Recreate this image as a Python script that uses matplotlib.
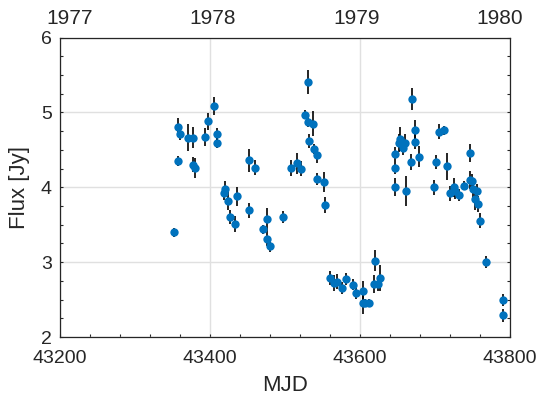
import numpy as np
import matplotlib
matplotlib.use("Agg")
from matplotlib import pyplot as plt
from matplotlib.ticker import MultipleLocator

# light curve
mjd = np.array([
    43351.4, 43357.5, 43359.8, 43357.5, 43370.5, 43376.7, 43377.5, 43380.2,
    43393.1, 43397.5, 43405.5, 43409.5, 43409.5, 43420.2, 43418.1, 43424.2,
    43426.5, 43432.7, 43436.2, 43451.4, 43459.8, 43451.4, 43470.1, 43476.2,
    43476.2, 43480.2, 43497.6, 43507.4, 43516.2, 43521.2, 43530.9, 43525.9,
    43530.1, 43536.8, 43532.2, 43538.9, 43542.9, 43542.9, 43551.2, 43553.2,
    43559.5, 43565.6, 43569.6, 43575.9, 43580.8, 43590.1, 43594.9, 43603.9,
    43603.5, 43606.9, 43611.9, 43619.9, 43618.1, 43623.5, 43626.1, 43669.9,
    43646.6, 43647.0, 43646.6, 43651.5, 43653.6, 43656.8, 43659.9, 43661.2,
    43667.6, 43673.6, 43673.6, 43678.6, 43699.0, 43701.2, 43704.8, 43711.5,
    43715.9, 43719.6, 43725.6, 43727.0, 43732.2, 43738.6, 43746.6, 43746.6,
    43748.9, 43750.2, 43753.3, 43755.5, 43756.9, 43759.5, 43767.9, 43791.0,
    43791.0])
flux = np.array([
    3.40, 4.80, 4.71, 4.35, 4.66, 4.66, 4.30, 4.26,
    4.67, 4.88, 5.09, 4.71, 4.59, 3.98, 3.92, 3.82,
    3.60, 3.51, 3.88, 4.36, 4.26, 3.69, 3.44, 3.57,
    3.31, 3.21, 3.60, 4.26, 4.32, 4.25, 5.40, 4.97,
    4.87, 4.85, 4.62, 4.51, 4.43, 4.11, 4.07, 3.76,
    2.79, 2.72, 2.74, 2.65, 2.77, 2.70, 2.59, 2.62,
    2.46, 2.46, 2.46, 3.02, 2.71, 2.71, 2.79, 5.18,
    4.44, 4.26, 4.00, 4.59, 4.64, 4.53, 4.59, 3.95,
    4.34, 4.76, 4.61, 4.41, 4.00, 4.34, 4.74, 4.76,
    4.28, 3.92, 4.00, 3.95, 3.90, 4.02, 4.46, 4.10,
    4.08, 3.98, 3.84, 3.95, 3.78, 3.55, 3.00, 2.50,
    2.29])
err = np.array([
    0.06, 0.13, 0.08, 0.07, 0.18, 0.14, 0.10, 0.13,
    0.12, 0.11, 0.12, 0.08, 0.07, 0.10, 0.09, 0.12,
    0.09, 0.11, 0.13, 0.15, 0.10, 0.10, 0.06, 0.15,
    0.10, 0.08, 0.08, 0.11, 0.14, 0.10, 0.16, 0.06,
    0.07, 0.17, 0.09, 0.07, 0.11, 0.08, 0.13, 0.11,
    0.09, 0.11, 0.10, 0.08, 0.08, 0.07, 0.08, 0.13,
    0.15, 0.05, 0.05, 0.14, 0.12, 0.10, 0.17, 0.15,
    0.10, 0.08, 0.12, 0.12, 0.16, 0.10, 0.12, 0.20,
    0.11, 0.14, 0.10, 0.14, 0.10, 0.09, 0.10, 0.06,
    0.18, 0.10, 0.13, 0.10, 0.08, 0.06, 0.12, 0.12,
    0.10, 0.12, 0.15, 0.10, 0.11, 0.10, 0.08, 0.08,
    0.09])

year_pos = [43213, 43403, 43595, 43786]
year_labels = ["1977", "1978", "1979", "1980"]

plt.rcParams["font.family"] = ["Liberation Sans", "DejaVu Sans"]
txt = "#262626"

fig = plt.figure(figsize=(5.4, 4.08), dpi=100)
ax = fig.add_axes([0.1115, 0.174, 0.833, 0.734])

ax.errorbar(mjd, flux, yerr=err, fmt="none", ecolor="black", elinewidth=1.2,
            capsize=0, zorder=2)
ax.plot(mjd, flux, "o", color="#0072BD", markersize=6, markeredgewidth=0,
        zorder=3)

ax.set_xlim(43200, 43800)
ax.set_ylim(2, 6)
ax.xaxis.set_major_locator(MultipleLocator(200))
ax.xaxis.set_minor_locator(MultipleLocator(40))
ax.yaxis.set_major_locator(MultipleLocator(1))
ax.yaxis.set_minor_locator(MultipleLocator(0.25))
ax.grid(True, which="major", color="#e0e0e0", linewidth=1.0)
ax.set_axisbelow(True)
ax.tick_params(which="both", direction="in", top=True, right=True,
               length=2.5, width=0.8, color=txt, labelsize=14,
               labelcolor=txt)
ax.tick_params(axis="x", pad=9)
ax.tick_params(axis="y", pad=6)
for s in ax.spines.values():
    s.set_color(txt)
    s.set_linewidth(0.9)

ax.set_xlabel("MJD", fontsize=16, color=txt, labelpad=6)
ax.set_ylabel("Flux [Jy]", fontsize=16, color=txt, labelpad=8)

top = ax.twiny()
top.set_xlim(ax.get_xlim())
top.set_xticks(year_pos)
top.set_xticklabels(year_labels)
top.tick_params(length=0, labelsize=15, labelcolor=txt, pad=7)
for s in top.spines.values():
    s.set_visible(False)

fig.savefig("out.png", dpi=100)
